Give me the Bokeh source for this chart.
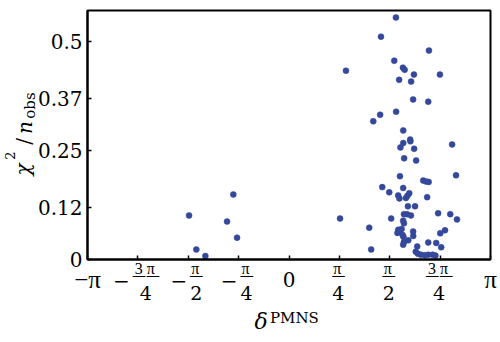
import numpy as np
from bokeh.plotting import figure
from bokeh.models import Range1d, Label, FixedTicker, CustomJSTickFormatter, BoxAnnotation
from bokeh.embed import file_html
from bokeh.resources import INLINE

PI = np.pi

# data (delta_PMNS in radians, chi^2 / n_obs)
delta_pmns = [1.667, 1.434, 2.182, 0.888, 1.641, 1.776, 1.803, 1.948, 2.353, 1.717,
              1.904, 1.935, 2.171, 1.670, 1.421, 1.314, 1.781, 1.889, 1.893, 1.781,
              1.737, 1.951, 2.543, 1.795, 1.982, 2.604, 1.730, 2.093, 2.135, 2.178,
              1.454, 1.780, 1.563, 1.702, 1.722, 1.875, 1.847, 1.823, 2.154, 1.854,
              1.965, 0.796, 1.593, 1.792, 1.839, 1.901, 2.325, 2.514, 2.619, 1.780,
              1.792, 1.251, 1.703, 1.730, 1.691, 1.756, 1.935, 1.937, 2.432, 2.358,
              1.784, 1.859, 1.792, 1.780, 1.281, 1.999, 2.171, 2.295, 2.373, 1.976,
              2.010, 2.057, 2.119, 2.171, 2.239, 2.283, 1.772,
              -0.868, -1.558, -0.966, -0.810, -1.445, -1.304]
chi2_nobs = [0.555, 0.511, 0.479, 0.433, 0.456, 0.440, 0.435, 0.424, 0.424, 0.412,
             0.408, 0.367, 0.362, 0.339, 0.332, 0.317, 0.296, 0.275, 0.271, 0.267,
             0.257, 0.254, 0.264, 0.232, 0.227, 0.193, 0.191, 0.181, 0.179, 0.178,
             0.166, 0.164, 0.154, 0.147, 0.140, 0.152, 0.146, 0.141, 0.143, 0.122,
             0.122, 0.094, 0.094, 0.104, 0.104, 0.101, 0.106, 0.104, 0.092, 0.089,
             0.083, 0.073, 0.068, 0.064, 0.061, 0.070, 0.064, 0.054, 0.067, 0.060,
             0.052, 0.044, 0.040, 0.034, 0.023, 0.030, 0.039, 0.038, 0.028, 0.018,
             0.013, 0.011, 0.010, 0.011, 0.011, 0.009, 0.056,
             0.149, 0.101, 0.087, 0.050, 0.023, 0.008]

X_MIN, X_MAX = -PI, PI
Y_MIN, Y_MAX = 0.0, 0.571
y_ticks = [0, 0.12, 0.25, 0.37, 0.5]
y_tick_labels = ["0", "0.12", "0.25", "0.37", "0.5"]
x_ticks = [-PI, -3 * PI / 4, -PI / 2, -PI / 4, 0, PI / 4, PI / 2, 3 * PI / 4, PI]
x_tick_sign = ["−", "−", "−", "−", "", "", "", "", ""]
x_tick_num = ["π", "3 π", "π", "π", "0", "π", "π", "3 π", "π"]
x_tick_den = ["", "4", "2", "4", "", "4", "2", "4", ""]

FONT = "DejaVu Serif"
PIFONT = "Liberation Serif"
DOT = "#34499c"

# layout in pixels: canvas size and where the data box sits inside it
W, H = 498, 340
BOX_L, BOX_R, BOX_T, BOX_B = 87, 490, 10, 259
sx = (BOX_R - BOX_L) / (X_MAX - X_MIN)
sy = (BOX_B - BOX_T) / (Y_MAX - Y_MIN)
x_range = Range1d(X_MIN - BOX_L / sx, X_MAX + (W - BOX_R) / sx)
y_range = Range1d(Y_MIN - (H - BOX_B) / sy, Y_MAX + BOX_T / sy)

p = figure(width=W, height=H, output_backend="svg", toolbar_location=None,
           x_range=x_range, y_range=y_range,
           min_border=0, min_border_left=0, min_border_right=0,
           min_border_top=0, min_border_bottom=0)
p.background_fill_color = "white"
p.border_fill_color = "white"
p.grid.visible = False
p.outline_line_color = None

# frame box
p.add_layout(BoxAnnotation(left=X_MIN, right=X_MAX, bottom=Y_MIN, top=Y_MAX,
                           fill_color=None, fill_alpha=0, line_color="black",
                           line_width=2, line_alpha=1))

p.scatter(delta_pmns, chi2_nobs, size=6, fill_color=DOT, line_color=DOT, line_width=0.5)

# axes (ticks only; text drawn as labels)
p.xaxis.fixed_location = Y_MIN
p.yaxis.fixed_location = X_MIN
p.xaxis.ticker = FixedTicker(ticks=x_ticks)
p.yaxis.ticker = FixedTicker(ticks=y_ticks)
p.xaxis.bounds = (X_MIN, X_MAX)
p.yaxis.bounds = (Y_MIN, Y_MAX)
for ax in (p.xaxis[0], p.yaxis[0]):
    ax.formatter = CustomJSTickFormatter(code="return ''")
    ax.major_label_text_font_size = "0px"
    ax.major_label_standoff = 0
    ax.axis_line_color = "black"
    ax.axis_line_width = 2
    ax.major_tick_in = 4
    ax.major_tick_out = 0
    ax.major_tick_line_width = 1.5
    ax.major_tick_line_color = "black"
    ax.minor_tick_line_color = None

# y tick labels
for v, t in zip(y_ticks, y_tick_labels):
    p.add_layout(Label(x=X_MIN, y=v, text=t, text_font=FONT, text_font_size="20px",
                       text_align="right", text_baseline="middle", x_offset=-5,
                       text_color="black"))

# x tick labels (fractions of pi)
for v, s, n, d in zip(x_ticks, x_tick_sign, x_tick_num, x_tick_den):
    if d == "":
        big_font = FONT if n == "0" else PIFONT
        big_size = "20px" if n == "0" else "25px"
        p.add_layout(Label(x=v, y=Y_MIN, text=s + n, text_font=big_font,
                           text_font_size=big_size, text_align="center",
                           text_baseline="middle", y_offset=-20, text_color="black"))
    else:
        cx = 8 if s else -1
        wide = len(n) > 1
        half = 14 if wide else 7
        p.add_layout(Label(x=v, y=Y_MIN, text=n, text_font=PIFONT, text_font_size="16px",
                           text_align="center", text_baseline="middle",
                           x_offset=cx - 1, y_offset=-9, text_color="black"))
        p.add_layout(Label(x=v, y=Y_MIN, text="—" * (2 if wide else 1), text_font=FONT,
                           text_font_size="14px", text_align="center", text_baseline="middle",
                           x_offset=cx, y_offset=-15, text_color="black"))
        p.add_layout(Label(x=v, y=Y_MIN, text=d, text_font=FONT, text_font_size="19px",
                           text_align="center", text_baseline="middle",
                           x_offset=cx, y_offset=-33, text_color="black"))
        if s:
            p.add_layout(Label(x=v, y=Y_MIN, text=s, text_font=FONT, text_font_size="20px",
                               text_align="right", text_baseline="middle",
                               x_offset=cx - half - 2, y_offset=-21, text_color="black"))

# x axis label: delta^PMNS
p.add_layout(Label(x=0, y=Y_MIN, text="δ", text_font=FONT, text_font_size="22px",
                   text_font_style="italic", text_align="center", text_baseline="alphabetic",
                   x_offset=-28, y_offset=-62, text_color="black"))
p.add_layout(Label(x=0, y=Y_MIN, text="PMNS", text_font=FONT, text_font_size="15px",
                   text_align="left", text_baseline="alphabetic",
                   x_offset=-19, y_offset=-58, text_color="black"))

# y axis label: chi^2 / n_obs (rotated pieces, placed by their centres)
ylab = [("χ", "20px", "italic", -65, 90),
        ("2", "13px", "normal", -78, 104),
        ("/", "20px", "normal", -64, 118),
        ("n", "20px", "italic", -63, 132),
        ("obs", "15px", "normal", -58, 154)]
for t, fs, st, xo, yo in ylab:
    p.add_layout(Label(x=X_MIN, y=Y_MIN, text=t, text_font=FONT, text_font_size=fs,
                       text_font_style=st, text_align="center", text_baseline="middle",
                       angle=PI / 2, x_offset=xo, y_offset=yo, text_color="black"))

open("out.html", "w").write(file_html(p, INLINE))
